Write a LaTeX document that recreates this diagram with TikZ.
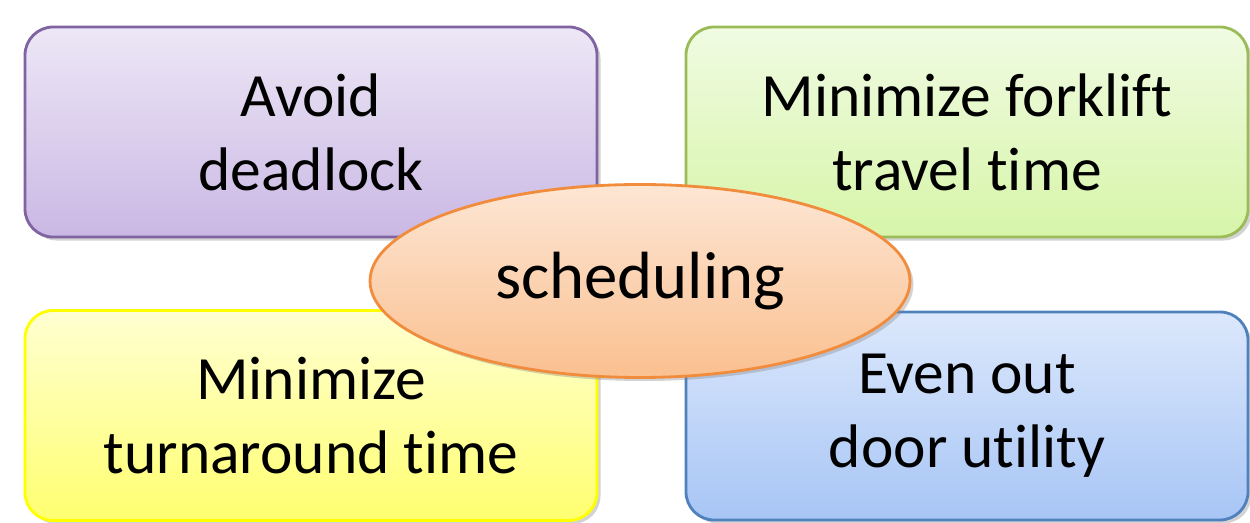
\documentclass[tikz,border=0pt]{standalone}
\usepackage{fontspec}
\setmainfont[Ligatures=NoCommon]{Carlito}
\usetikzlibrary{shapes.geometric,shadows}

\begin{document}
\begin{tikzpicture}[
    goalbox/.style={rectangle, rounded corners=16pt, line width=1.6pt,
      align=center, font=\fontsize{35}{42}\selectfont,
      drop shadow={opacity=0.35, shadow xshift=2pt, shadow yshift=-2pt}},
    hub/.style={ellipse, line width=1.6pt,
      minimum width=10.8cm, minimum height=3.86cm, inner sep=0pt,
      font=\fontsize{38}{44}\selectfont,
      drop shadow={opacity=0.35, shadow xshift=2pt, shadow yshift=-2pt}}
  ]
    \useasboundingbox (0,0) rectangle (25,10.46);

    % 上の二つ
    \node[goalbox, draw={rgb,255:red,128;green,100;blue,162},
      top color={rgb,255:red,237;green,231;blue,246},
      bottom color={rgb,255:red,202;green,184;blue,228},
      minimum width=11.44cm, minimum height=4.2cm] (deadlock) at (6.22,7.82)
      {Avoid\\deadlock};
    \node[goalbox, draw={rgb,255:red,155;green,187;blue,89},
      top color={rgb,255:red,240;green,251;blue,226},
      bottom color={rgb,255:red,215;green,245;blue,169},
      minimum width=11.24cm, minimum height=4.2cm] (travel) at (19.34,7.82)
      {Minimize forklift\\travel time};

    % 下の二つ
    \node[goalbox, draw={rgb,255:red,255;green,255;blue,0},
      top color={rgb,255:red,255;green,255;blue,210},
      bottom color={rgb,255:red,255;green,255;blue,112},
      minimum width=11.44cm, minimum height=4.2cm] (turnaround) at (6.22,2.15)
      {Minimize\\turnaround time};
    \node[goalbox, draw={rgb,255:red,79;green,129;blue,189},
      top color={rgb,255:red,220;green,232;blue,252},
      bottom color={rgb,255:red,167;green,197;blue,245},
      minimum width=11.24cm, minimum height=4.16cm] (door) at (19.34,2.14)
      {Even out\\door utility};

    % 中央
    \node[hub, draw={rgb,255:red,240;green,140;blue,60},
      top color={rgb,255:red,253;green,230;blue,212},
      bottom color={rgb,255:red,250;green,192;blue,144}] (sched) at (12.8,4.84)
      {scheduling};
  \end{tikzpicture}
\end{document}
